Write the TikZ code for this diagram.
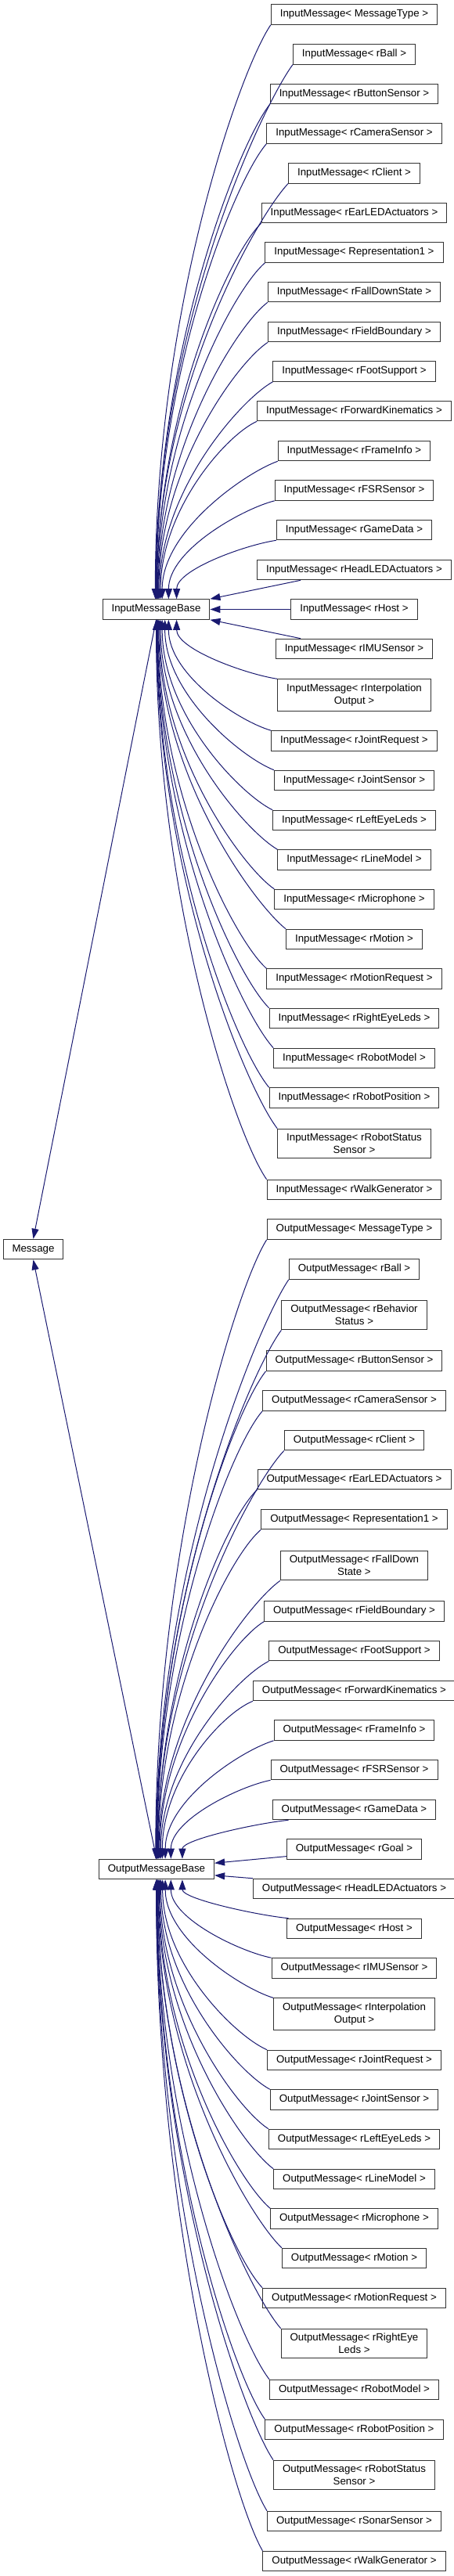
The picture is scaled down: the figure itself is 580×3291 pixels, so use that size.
\documentclass[tikz,border=0pt]{standalone}
\usepackage{fontspec}
\setmainfont{Liberation Sans}
\usetikzlibrary{arrows.meta}
\usetikzlibrary{calc}

\definecolor{edgeblue}{RGB}{25,25,112}

\tikzset{
  cls/.style={draw=black!80, line width=1pt, fill=white, inner xsep=11.5pt, inner ysep=6pt,
    minimum height=25.6pt, align=center, font=\fontsize{13.3}{16}\selectfont},
  inh/.style={draw=edgeblue, line width=1pt, -{Triangle[length=13pt,width=9pt]}},
  curvy/.style={to path={let \p1=(\tikztostart), \p2=(\tikztotarget) in
    .. controls (\x1-40pt,{\y1-0.08*(\y1-\y2)}) and (\x2,{\y2+0.5*(\y1-\y2)}) .. (\tikztotarget)}}
}

\begin{document}
\begin{tikzpicture}[x=1pt, y=-1pt]
  \useasboundingbox (0,0) rectangle (580,3291);

  \node[cls] (msg) at (42.5, 1596) {Message};
  \node[cls] (ibase) at (199.5, 778.5) {InputMessageBase};
  \node[cls] (obase) at (200, 2388) {OutputMessageBase};

  % input side
  \node[cls] (in1) at (452.5, 18.5) {InputMessage< MessageType >};
  \node[cls] (in2) at (452.5, 69.3) {InputMessage< rBall >};
  \node[cls] (in3) at (452.5, 120) {InputMessage< rButtonSensor >};
  \node[cls] (in4) at (452.5, 170.5) {InputMessage< rCameraSensor >};
  \node[cls] (in5) at (452.5, 221.3) {InputMessage< rClient >};
  \node[cls] (in6) at (452.5, 272) {InputMessage< rEarLEDActuators >};
  \node[cls] (in7) at (452.5, 322.5) {InputMessage< Representation1 >};
  \node[cls] (in8) at (452.5, 373) {InputMessage< rFallDownState >};
  \node[cls] (in9) at (452.5, 424) {InputMessage< rFieldBoundary >};
  \node[cls] (in10) at (452.5, 474.5) {InputMessage< rFootSupport >};
  \node[cls] (in11) at (452.5, 525) {InputMessage< rForwardKinematics >};
  \node[cls] (in12) at (452.5, 576) {InputMessage< rFrameInfo >};
  \node[cls] (in13) at (452.5, 626.5) {InputMessage< rFSRSensor >};
  \node[cls] (in14) at (452.5, 677) {InputMessage< rGameData >};
  \node[cls] (in15) at (452.5, 728) {InputMessage< rHeadLEDActuators >};
  \node[cls] (in16) at (452.5, 778.5) {InputMessage< rHost >};
  \node[cls] (in17) at (452.5, 829) {InputMessage< rIMUSensor >};
  \node[cls] (in18) at (452.5, 888) {InputMessage< rInterpolation\\Output >};
  \node[cls] (in19) at (452.5, 946.5) {InputMessage< rJointRequest >};
  \node[cls] (in20) at (452.5, 997) {InputMessage< rJointSensor >};
  \node[cls] (in21) at (452.5, 1048) {InputMessage< rLeftEyeLeds >};
  \node[cls] (in22) at (452.5, 1098.5) {InputMessage< rLineModel >};
  \node[cls] (in23) at (452.5, 1149) {InputMessage< rMicrophone >};
  \node[cls] (in24) at (452.5, 1200) {InputMessage< rMotion >};
  \node[cls] (in25) at (452.5, 1250.5) {InputMessage< rMotionRequest >};
  \node[cls] (in26) at (452.5, 1301) {InputMessage< rRightEyeLeds >};
  \node[cls] (in27) at (452.5, 1352) {InputMessage< rRobotModel >};
  \node[cls] (in28) at (452.5, 1402.5) {InputMessage< rRobotPosition >};
  \node[cls] (in29) at (452.5, 1461) {InputMessage< rRobotStatus\\Sensor >};
  \node[cls] (in30) at (452.5, 1520) {InputMessage< rWalkGenerator >};

  % output side
  \node[cls] (out1) at (452.5, 1570.5) {OutputMessage< MessageType >};
  \node[cls] (out2) at (452.5, 1621.5) {OutputMessage< rBall >};
  \node[cls] (out3) at (452.5, 1680) {OutputMessage< rBehavior\\Status >};
  \node[cls] (out4) at (452.5, 1738.5) {OutputMessage< rButtonSensor >};
  \node[cls] (out5) at (452.5, 1789.5) {OutputMessage< rCameraSensor >};
  \node[cls] (out6) at (452.5, 1840) {OutputMessage< rClient >};
  \node[cls] (out7) at (452.5, 1890) {OutputMessage< rEarLEDActuators >};
  \node[cls] (out8) at (452.5, 1941) {OutputMessage< Representation1 >};
  \node[cls] (out9) at (452.5, 2000) {OutputMessage< rFallDown\\State >};
  \node[cls] (out10) at (452.5, 2058.5) {OutputMessage< rFieldBoundary >};
  \node[cls] (out11) at (452.5, 2109) {OutputMessage< rFootSupport >};
  \node[cls] (out12) at (452.5, 2160) {OutputMessage< rForwardKinematics >};
  \node[cls] (out13) at (452.5, 2210.5) {OutputMessage< rFrameInfo >};
  \node[cls] (out14) at (452.5, 2261) {OutputMessage< rFSRSensor >};
  \node[cls] (out15) at (452.5, 2312) {OutputMessage< rGameData >};
  \node[cls] (out16) at (452.5, 2362.5) {OutputMessage< rGoal >};
  \node[cls] (out17) at (452.5, 2413) {OutputMessage< rHeadLEDActuators >};
  \node[cls] (out18) at (452.5, 2464) {OutputMessage< rHost >};
  \node[cls] (out19) at (452.5, 2514.5) {OutputMessage< rIMUSensor >};
  \node[cls] (out20) at (452.5, 2573) {OutputMessage< rInterpolation\\Output >};
  \node[cls] (out21) at (452.5, 2632) {OutputMessage< rJointRequest >};
  \node[cls] (out22) at (452.5, 2682.5) {OutputMessage< rJointSensor >};
  \node[cls] (out23) at (452.5, 2733) {OutputMessage< rLeftEyeLeds >};
  \node[cls] (out24) at (452.5, 2784) {OutputMessage< rLineModel >};
  \node[cls] (out25) at (452.5, 2834.5) {OutputMessage< rMicrophone >};
  \node[cls] (out26) at (452.5, 2885) {OutputMessage< rMotion >};
  \node[cls] (out27) at (452.5, 2936) {OutputMessage< rMotionRequest >};
  \node[cls] (out28) at (452.5, 2994) {OutputMessage< rRightEye\\Leds >};
  \node[cls] (out29) at (452.5, 3053) {OutputMessage< rRobotModel >};
  \node[cls] (out30) at (452.5, 3104) {OutputMessage< rRobotPosition >};
  \node[cls] (out31) at (452.5, 3162) {OutputMessage< rRobotStatus\\Sensor >};
  \node[cls] (out32) at (452.5, 3221) {OutputMessage< rSonarSensor >};
  \node[cls] (out33) at (452.5, 3272) {OutputMessage< rWalkGenerator >};

  % edges to Message
  \draw[inh] (ibase.south) -- (msg.north);
  \draw[inh] (obase.north) -- (msg.south);

  % edges to InputMessageBase
  \foreach \i/\a in {1/95,2/93,3/91,4/89,5/87,6/85,7/82,8/79,9/76,10/72,11/67,12/60,13/40,14/27}
    \draw[inh] (in\i.south west) to[curvy] (ibase.\a);
  \draw[inh] (in15.191) -- (ibase.north east);
  \draw[inh] (in16.west) -- (ibase.east);
  \draw[inh] (in17.169) -- (ibase.south east);
  \foreach \i/\a in {18/333,19/320,20/310,21/300,22/293,23/288,24/284,25/281,26/278,27/276,28/274,29/272,30/270}
    \draw[inh] (in\i.north west) to[curvy] (ibase.\a);

  % edges to OutputMessageBase
  \foreach \i/\a in {1/95,2/93,3/91,4/89,5/87,6/85,7/83,8/80,9/77,10/73,11/68,12/61,13/50,14/36}
    \draw[inh] (out\i.south west) to[curvy] (obase.\a);
  \draw[inh] (out15.189) to[curvy] (obase.22);
  \draw[inh] (out16.186) -- (obase.6);
  \draw[inh] (out17.north west) -- (obase.354);
  \draw[inh] (out18.171) to[curvy] (obase.338);
  \foreach \i/\a in {19/324,20/310,21/300,22/293,23/288,24/284,25/281,26/278,27/276,28/274,29/272,30/271,31/270,32/269,33/268}
    \draw[inh] (out\i.north west) to[curvy] (obase.\a);
\end{tikzpicture}
\end{document}
